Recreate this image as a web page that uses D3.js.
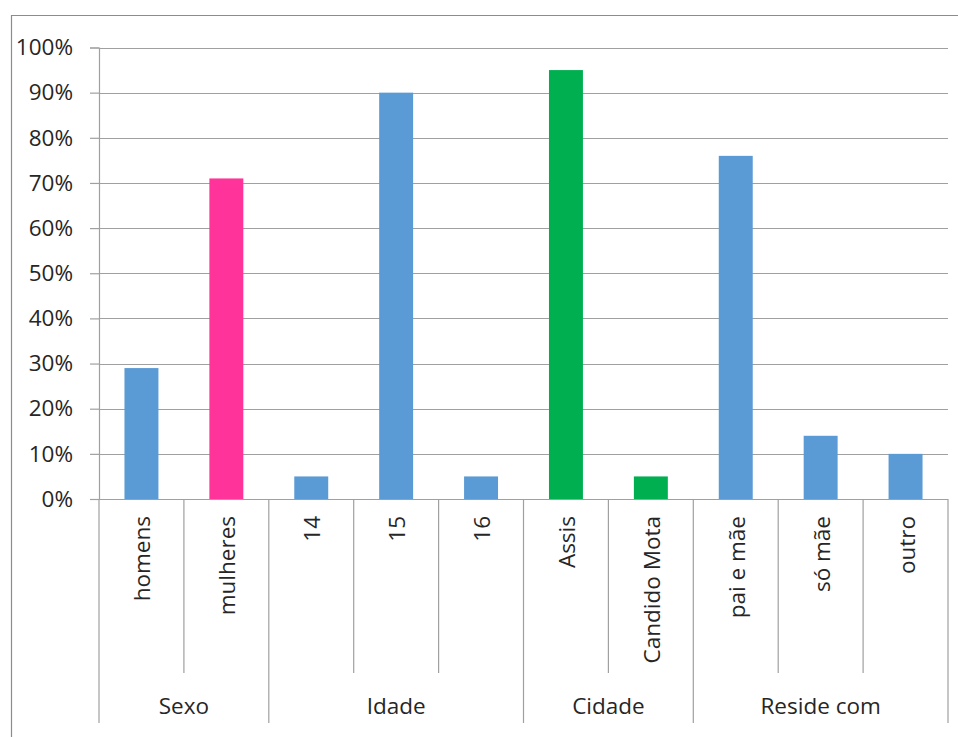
<!DOCTYPE html>
<html>
<head>
<meta charset="utf-8">
<script src="https://cdn.jsdelivr.net/npm/d3@7"></script>
<style>
  html, body { margin: 0; padding: 0; background: #fff; }
  svg { display: block; }
  text { font-family: "Open Sans", "Liberation Sans", sans-serif; fill: #262626; }
</style>
</head>
<body>
<svg id="chart" width="958" height="737"></svg>
<script>
// Survey profile: share of respondents in each category
const categories = ["homens", "mulheres", "14", "15", "16", "Assis", "Candido Mota", "pai e mãe", "só mãe", "outro"];
const values = [0.29, 0.71, 0.05, 0.90, 0.05, 0.95, 0.05, 0.76, 0.14, 0.10];
const groups = ["Sexo", "Sexo", "Idade", "Idade", "Idade", "Cidade", "Cidade", "Reside com", "Reside com", "Reside com"];
const groupNames = ["Sexo", "Idade", "Cidade", "Reside com"];
const barColors = ["#5B9BD5", "#FF3399", "#5B9BD5", "#5B9BD5", "#5B9BD5", "#00B050", "#00B050", "#5B9BD5", "#5B9BD5", "#5B9BD5"];
const yTicks = [0, 0.1, 0.2, 0.3, 0.4, 0.5, 0.6, 0.7, 0.8, 0.9, 1.0];

(function () {
  const svg = d3.select("#chart");
  const plotLeft = 99, plotRight = 948, plotTop = 47.5, plotBottom = 499;
  const innerSepEnd = 673, groupSepEnd = 723;
  const lineColor = "#a0a0a0";

  // Outer chart frame
  svg.append("path")
    .attr("d", "M11.5,737 L11.5,15.5 L958,15.5")
    .attr("fill", "none").attr("stroke", "#8c8c8c").attr("stroke-width", 1.2);

  const x = d3.scaleBand().domain(categories).range([plotLeft, plotRight])
    .paddingInner(0.6).paddingOuter(0.3).align(0.5);
  const step = x.step();
  const y = d3.scaleLinear().domain([0, 1]).range([plotBottom, plotTop]);

  // Horizontal gridlines
  svg.append("g").selectAll("line").data(yTicks.slice(1)).join("line")
    .attr("x1", plotLeft).attr("x2", plotRight)
    .attr("y1", d => Math.round(y(d)) + 0.5).attr("y2", d => Math.round(y(d)) + 0.5)
    .attr("stroke", lineColor).attr("stroke-width", 1.2);

  // Y axis with percentage labels
  const yAxis = d3.axisLeft(y).tickValues(yTicks).tickSize(9).tickPadding(17)
    .tickFormat(d3.format(".0%"));
  const gy = svg.append("g").attr("transform", `translate(${plotLeft},0)`).call(yAxis);
  gy.select(".domain").attr("stroke", lineColor).attr("stroke-width", 1.2);
  gy.selectAll(".tick line").attr("stroke", lineColor).attr("stroke-width", 1.2);
  gy.selectAll(".tick text")
    .style("font-family", '"Open Sans", "Liberation Sans", sans-serif')
    .style("font-size", "22.5px").attr("fill", "#262626");

  // Bars
  svg.append("g").selectAll("rect").data(categories).join("rect")
    .attr("x", d => x(d))
    .attr("width", x.bandwidth())
    .attr("y", (d, i) => y(values[i]))
    .attr("height", (d, i) => y(0) - y(values[i]))
    .attr("fill", (d, i) => barColors[i]);

  // Category axis baseline
  svg.append("line")
    .attr("x1", plotLeft).attr("x2", plotRight).attr("y1", plotBottom + 0.5).attr("y2", plotBottom + 0.5)
    .attr("stroke", lineColor).attr("stroke-width", 1.2);

  // Separators between categories: short inside a group, long at group edges
  const seps = d3.range(categories.length + 1).map(i => {
    const isGroupEdge = i === 0 || i === categories.length || groups[i] !== groups[i - 1];
    return { x: plotLeft + i * step, end: isGroupEdge ? groupSepEnd : innerSepEnd };
  });
  svg.append("g").selectAll("line").data(seps).join("line")
    .attr("x1", d => d.x).attr("x2", d => d.x)
    .attr("y1", plotBottom).attr("y2", d => d.end)
    .attr("stroke", lineColor).attr("stroke-width", 1.2);

  // Rotated category labels
  svg.append("g").selectAll("text").data(categories).join("text")
    .attr("transform", d => `translate(${x(d) + x.bandwidth() / 2 + 9},516) rotate(-90)`)
    .attr("text-anchor", "end")
    .style("font-size", "22.5px")
    .text(d => d);

  // Group labels centred under their categories
  const groupSpans = groupNames.map(g => {
    const idx = categories.map((c, i) => i).filter(i => groups[i] === g);
    return { name: g, x0: plotLeft + idx[0] * step, x1: plotLeft + (idx[idx.length - 1] + 1) * step };
  });
  svg.append("g").selectAll("text").data(groupSpans).join("text")
    .attr("x", d => (d.x0 + d.x1) / 2)
    .attr("y", 714)
    .attr("text-anchor", "middle")
    .style("font-size", "22.5px")
    .text(d => d.name);
})();
</script>
</body>
</html>
